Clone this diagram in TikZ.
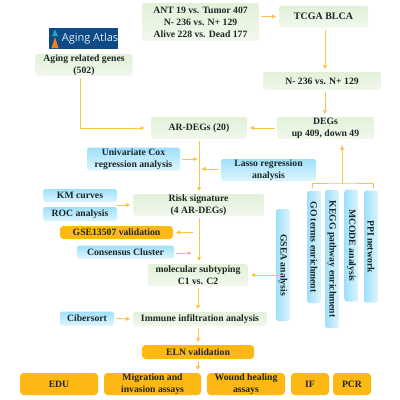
\documentclass[tikz,border=0pt]{standalone}
\usepackage{fontspec}
\setmainfont{Liberation Serif}
\newfontfamily\logofont{Open Sans}
\usetikzlibrary{arrows.meta}
\definecolor{arrowgold}{HTML}{F9C24A}
\definecolor{boxgold}{HTML}{FDB813}
\definecolor{boxsky}{HTML}{9FE0FA}
\definecolor{boxpale}{HTML}{DDF5FD}
\definecolor{greentop}{HTML}{E2F1D9}
\definecolor{greenlow}{HTML}{F1F8EC}
\definecolor{logoblue}{HTML}{0E4A86}
\definecolor{logoteal}{HTML}{2F9FC4}
\definecolor{logoorange}{HTML}{EE7F1B}
\definecolor{inkdark}{HTML}{1C2626}
\begin{document}
\begin{tikzpicture}[
    x=1pt,y=-1pt,
    line cap=round,
    line join=round,
    box/.style={rounded corners=2.5pt, align=center, inner sep=0pt, outer sep=2.5pt, font=\fontsize{9.7}{12}\selectfont\bfseries, text=inkdark},
    greenbox/.style={box, top color=greentop, bottom color=greenlow},
    bluebox/.style={box, top color=boxsky, bottom color=boxpale},
    columnbox/.style={box, rotate=-90, minimum height=14pt, left color=boxsky, right color=boxpale},
    goldbox/.style={box, fill=boxgold, rounded corners=3.5pt},
    link/.style={draw=arrowgold, line width=0.9pt, -{Latex[length=4.5pt,width=4.5pt]}},
    bar/.style={draw=arrowgold, line width=0.9pt}
]
\useasboundingbox (0,0) rectangle (400,400);

% left side, sources
\node[fill=logoblue, minimum width=69pt, minimum height=21pt, inner sep=0pt] (logo) at (83.5,38.5) {};
\node[text=white!90!logoblue, inner sep=0pt, font=\fontsize{11}{12}\logofont] (logotext) at (90,39) {Aging Atlas};
\fill[logoteal] (55,29.5) -- (58,36) -- (52,36) -- cycle;
\fill[logoorange] (55,37) -- (58.5,48) -- (51.5,48) -- cycle;
\node[greenbox, minimum width=97pt, minimum height=22pt] (aging) at (84,65) {Aging related genes\\(502)};

% top row
\node[greenbox, minimum width=117pt, minimum height=38pt] (ant) at (200.5,22) {ANT 19 vs. Tumor 407\\N- 236 vs. N+ 129\\Alive 228 vs. Dead 177};
\node[greenbox, minimum width=89pt, minimum height=22pt, font=\fontsize{10}{12}\selectfont\bfseries] (tcga) at (323.5,16.5) {TCGA BLCA};
\node[greenbox, minimum width=118pt, minimum height=18pt] (split) at (322,81) {N- 236 vs. N+ 129};
\node[greenbox, minimum width=97pt, minimum height=22pt] (degs) at (325.5,128) {DEGs\\up 409, down 49};
\node[greenbox, minimum width=96pt, minimum height=22pt] (ardegs) at (199,128) {AR-DEGs (20)};

% regression
\node[bluebox, minimum width=93pt, minimum height=23pt] (cox) at (133.5,159) {Univariate Cox\\regression analysis};
\node[bluebox, minimum width=95pt, minimum height=22pt] (lasso) at (268.5,170) {Lasso regression\\analysis};

% signature
\node[greenbox, minimum width=131pt, minimum height=22pt] (risk) at (198.5,205) {Risk signature\\(4 AR-DEGs)};
\node[bluebox, minimum width=74pt, minimum height=13pt] (km) at (80,195.5) {KM curves};
\node[bluebox, minimum width=74pt, minimum height=14pt] (roc) at (80,214) {ROC analysis};
\node[goldbox, minimum width=113pt, minimum height=13pt] (gse) at (116.5,232.5) {GSE13507 validation};
\node[bluebox, minimum width=97pt, minimum height=13pt] (cluster) at (125.5,252) {Consensus Cluster};
\node[greenbox, minimum width=100pt, minimum height=22pt] (subtype) at (198,275) {molecular subtyping\\C1 vs. C2};
\node[bluebox, minimum width=54pt, minimum height=14pt] (cibersort) at (87,318.5) {Cibersort};
\node[greenbox, minimum width=134pt, minimum height=14pt] (immune) at (200,319) {Immune infiltration analysis};
\node[goldbox, minimum width=112pt, minimum height=14pt] (eln) at (198,352) {ELN validation};

% enrichment columns
\node[columnbox, minimum width=112pt] (gsea) at (283,265) {GSEA analysis};
\node[columnbox, minimum width=112pt] (go) at (314,247) {GO terms enrichment};
\node[columnbox, minimum width=138pt] (kegg) at (332,259) {KEGG pathway enrichment};
\node[columnbox, minimum width=112pt] (mcode) at (351.5,245.5) {MCODE analysis};
\node[columnbox, minimum width=112pt] (ppi) at (371,246.5) {PPI network};

% bottom row
\node[goldbox, minimum width=78pt, minimum height=22pt] (edu) at (59,384) {EDU};
\node[goldbox, minimum width=97pt, minimum height=22pt] (migration) at (152.5,384) {Migration and\\invasion assays};
\node[goldbox, minimum width=78pt, minimum height=22pt] (wound) at (246,384) {Wound healing\\assays};
\node[goldbox, minimum width=38pt, minimum height=22pt] (if) at (310,384) {IF};
\node[goldbox, minimum width=38pt, minimum height=22pt] (pcr) at (352,384) {PCR};

% free ends
\coordinate (spineR) at (325,0);
\coordinate (spineM) at (199,0);
\coordinate (spineL) at (198,0);
\coordinate (agingout) at (80,0);
\coordinate (agingin) at (145,128);
\coordinate (kmout) at (117,205);
\coordinate (gseout) at (193,232.5);
\coordinate (clusterin) at (192,253);
\coordinate (coxin) at (198,159);
\coordinate (lassoin) at (201,169);
\coordinate (busleft) at (312,188);
\coordinate (busright) at (373,188);
\coordinate (busmid) at (342,183);
\coordinate (degsin) at (342,145);

% connectors
\draw[link] (aging.south -| agingout) |- (agingin);
\draw[link] (ant.east |- tcga) -- (tcga.west);
\draw[link] (tcga.south -| spineR) -- (split.north -| spineR);
\draw[link] (split.south -| spineR) -- (degs.north -| spineR);
\draw[link] (degs.west) -- (ardegs.east);
\draw[link] (ardegs.south -| spineM) -- (risk.north -| spineM);
\draw[link] (cox.east) -- (coxin);
\draw[link] (lasso.west |- lassoin) -- (lassoin);
\draw[link] (kmout) -- (risk.west |- kmout);
\draw[link] (risk.south -| spineM) -- (subtype.north -| spineM);
\draw[link] (gseout) -- (gse.east);
\draw[link] (cluster.east |- clusterin) -- (clusterin);
\draw[link] (subtype.south -| spineL) -- (immune.north -| spineL);
\draw[link] (immune.south -| spineL) -- (eln.north -| spineL);
\draw[link] (cibersort.east) -- (immune.west);
\draw[link] (eln.south -| spineL) -- (migration.north -| spineL);
\draw[link] (gsea.west |- subtype) -- (subtype.east);
\draw[bar] (busleft) |- (busmid) -| (busright);
\draw[link] (busmid) -- (degsin);
\end{tikzpicture}
\end{document}
